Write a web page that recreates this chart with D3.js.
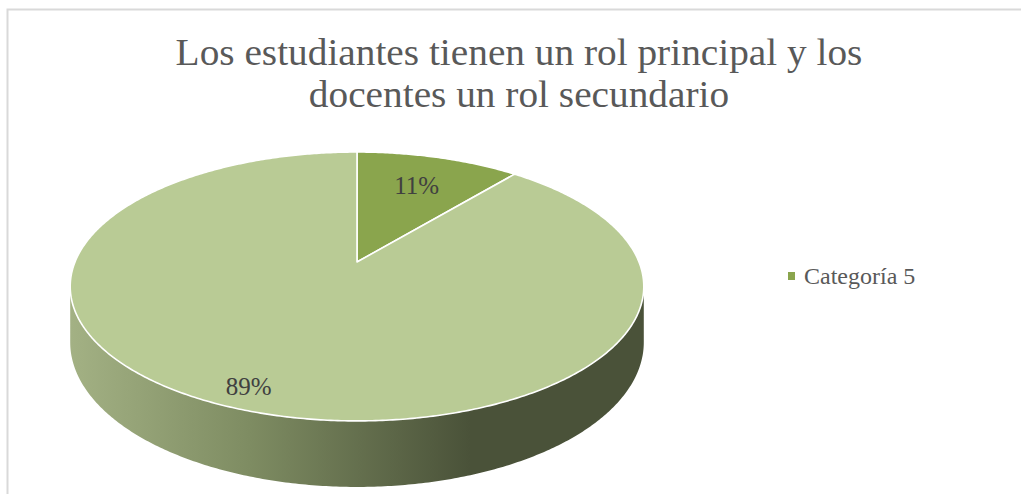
<!DOCTYPE html>
<html>
<head>
<meta charset="utf-8">
<script src="https://cdn.jsdelivr.net/npm/d3@7/dist/d3.min.js"></script>
<style>
  html, body { margin: 0; padding: 0; background: #ffffff; }
  svg { display: block; }
</style>
</head>
<body>
<svg id="chart" width="1021" height="494"></svg>
<script>
// ---- data ----
const titleLines = ["Los estudiantes tienen un rol principal y los", "docentes un rol secundario"];
const categories = ["Categoría 5", "Categoría 6"];
const values = [11, 89];
const legendItems = ["Categoría 5"];

// ---- styles ----
const sliceColors = ["#8aa54d", "#b9cb95"];
const textGray = "#595959";
const labelGray = "#404040";

const W = 1021, H = 494;
const svg = d3.select("#chart");

// background + border
svg.append("rect").attr("width", W).attr("height", H).attr("fill", "#ffffff");
svg.append("rect").attr("x", 7.5).attr("y", 9.5).attr("width", 1200).attr("height", 800)
  .attr("fill", "none").attr("stroke", "#d9d9d9").attr("stroke-width", 2);

// ---- title ----
const titleG = svg.append("g");
const t1 = titleG.append("text")
  .attr("font-family", "'Liberation Serif', 'DejaVu Serif', serif")
  .attr("font-size", 38).attr("fill", textGray).attr("text-anchor", "middle")
  .attr("x", 0).attr("y", 65).text(titleLines[0]);
const natural = t1.node().getComputedTextLength();
const sx = 687 / natural;
titleG.selectAll("text").remove();
titleLines.forEach((line, i) => {
  titleG.append("text")
    .attr("font-family", "'Liberation Serif', 'DejaVu Serif', serif")
    .attr("font-size", 38).attr("fill", textGray).attr("text-anchor", "middle")
    .attr("transform", `translate(519,${65 + i * 42}) scale(${sx},1)`)
    .text(line);
});

// ---- 3D pie projection ----
const cx = 357, cy = 262;     // projected centre of the disc
const F = 282, G = 130, k = 0.182, depth = 54;
function proj(u, v, down) {
  const w = 1 - k * v;
  return [cx + F * u / w, cy + (G * v + (down || 0)) / w];
}
function ptAt(theta, r, down) {
  return proj(r * Math.sin(theta), -r * Math.cos(theta), down);
}
function arcPoints(a0, a1, r, down) {
  const n = Math.max(2, Math.ceil(Math.abs(a1 - a0) / 0.01));
  return d3.range(n + 1).map(i => ptAt(a0 + (a1 - a0) * i / n, r, down));
}

const pie = d3.pie().sort(null).value(d => d)(values);

// gradient for the side wall
const defs = svg.append("defs");
const grad = defs.append("linearGradient").attr("id", "wallGrad")
  .attr("gradientUnits", "userSpaceOnUse")
  .attr("x1", 70).attr("y1", 0).attr("x2", 470).attr("y2", 0);
grad.append("stop").attr("offset", 0).attr("stop-color", "#a3b184");
grad.append("stop").attr("offset", 0.45).attr("stop-color", "#7e8c62");
grad.append("stop").attr("offset", 1).attr("stop-color", "#4a5239");

// side wall (front half, between silhouette angles)
const thR = Math.acos(-k), thL = 2 * Math.PI - Math.acos(-k);
const line = d3.line();
const topArc = arcPoints(thR, thL, 1, 0);
const botArc = arcPoints(thL, thR, 1, depth);
svg.append("path")
  .attr("d", line(topArc.concat(botArc)) + "Z")
  .attr("fill", "url(#wallGrad)");

// top faces
svg.selectAll("path.slice").data(pie).enter().append("path")
  .attr("class", "slice")
  .attr("d", d => line([proj(0, 0)].concat(arcPoints(d.startAngle, d.endAngle, 1, 0))) + "Z")
  .attr("fill", (d, i) => sliceColors[i])
  .attr("stroke", "#ffffff").attr("stroke-width", 1.6).attr("stroke-linejoin", "round");

// labels
const labelR = [0.70, 0.88];
const labelShift = [0, 0.035];
svg.selectAll("text.lbl").data(pie).enter().append("text")
  .attr("class", "lbl")
  .attr("font-family", "'Liberation Serif', 'DejaVu Serif', serif")
  .attr("font-size", 25).attr("fill", labelGray).attr("text-anchor", "middle")
  .attr("dominant-baseline", "central")
  .attr("x", (d, i) => ptAt((d.startAngle + d.endAngle) / 2 + labelShift[i], labelR[i])[0])
  .attr("y", (d, i) => ptAt((d.startAngle + d.endAngle) / 2 + labelShift[i], labelR[i])[1])
  .text(d => d3.format(".0%")(d.value / d3.sum(values)));

// legend
const leg = svg.append("g").attr("transform", "translate(788,272)");
legendItems.forEach((name, i) => {
  leg.append("rect").attr("x", 0).attr("y", i * 30).attr("width", 7).attr("height", 8)
    .attr("fill", sliceColors[categories.indexOf(name)]);
  leg.append("text").attr("x", 16).attr("y", i * 30 + 12)
    .attr("font-family", "'Liberation Serif', 'DejaVu Serif', serif")
    .attr("font-size", 24).attr("fill", textGray)
    .text(name);
});
</script>
</body>
</html>
